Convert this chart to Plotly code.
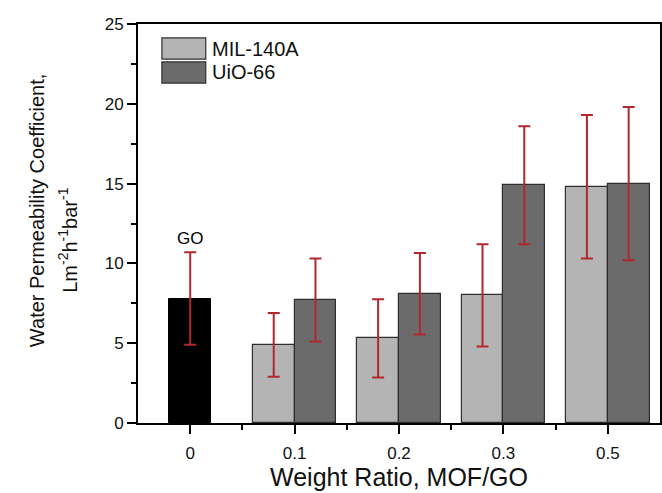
import plotly.graph_objects as go

categories = ["0", "0.1", "0.2", "0.3", "0.5"]
go_value = [7.8]
go_error = [2.9]
mil_values = [4.9, 5.3, 8.0, 14.8]
mil_errors = [2.0, 2.45, 3.2, 4.5]
uio_values = [7.7, 8.1, 14.9, 15.0]
uio_errors = [2.6, 2.55, 3.7, 4.8]
y_ticks = [0, 5, 10, 15, 20, 25]

pos = list(range(len(categories)))
FONT = "Arial, Liberation Sans, sans-serif"
ERR = "#b0282d"

fig = go.Figure()
fig.add_trace(go.Bar(
    x=pos[:1], y=go_value, name="GO", width=0.4, offset=-0.2,
    marker=dict(color="#000000", line=dict(color="#000000", width=1)),
    error_y=dict(type="data", array=go_error, color=ERR, thickness=2, width=6),
    showlegend=False))
fig.add_trace(go.Bar(
    x=pos[1:], y=mil_values, name="MIL-140A", width=0.4, offset=-0.4,
    marker=dict(color="#b4b4b4", line=dict(color="#2e2e2e", width=1.2)),
    error_y=dict(type="data", array=mil_errors, color=ERR, thickness=2, width=6),
    showlegend=False))
fig.add_trace(go.Bar(
    x=pos[1:], y=uio_values, name="UiO-66", width=0.4, offset=0.0,
    marker=dict(color="#6b6b6b", line=dict(color="#2e2e2e", width=1.2)),
    error_y=dict(type="data", array=uio_errors, color=ERR, thickness=2, width=6),
    showlegend=False))

# GO label
fig.add_annotation(x=pos[0], y=go_value[0] + go_error[0], text="GO", showarrow=False,
                   yanchor="bottom", yshift=2, font=dict(family=FONT, size=17, color="#000"))

# custom legend
leg = [("MIL-140A", "#b4b4b4", 0.965, 0.912), ("UiO-66", "#6b6b6b", 0.905, 0.852)]
for name, col, y1, y0 in leg:
    fig.add_shape(type="rect", xref="paper", yref="paper", x0=0.0458, x1=0.1298,
                  y0=y0, y1=y1, fillcolor=col, line=dict(color="#2e2e2e", width=1.2))
    fig.add_annotation(xref="paper", yref="paper", x=0.137, y=(y0 + y1) / 2, text=name,
                       showarrow=False, xanchor="left", yanchor="middle",
                       font=dict(family=FONT, size=20, color="#111"))

# y-axis title (two lines)
fig.add_annotation(xref="paper", yref="paper", x=0, y=0.531, xshift=-114,
                   text="Water Permeability Coefficient,", textangle=-90, showarrow=False,
                   font=dict(family=FONT, size=20, color="#111"))
fig.add_annotation(xref="paper", yref="paper", x=0, y=0.458, xshift=-85,
                   text="Lm<sup>-2</sup>h<sup>-1</sup>bar<sup>-1</sup>", textangle=-90,
                   showarrow=False, font=dict(family=FONT, size=20, color="#111"))

fig.update_layout(
    width=662, height=493,
    margin=dict(l=138, r=0, t=24, b=70),
    paper_bgcolor="white", plot_bgcolor="white",
    barmode="overlay", bargap=0,
    font=dict(family=FONT, size=17, color="#111"),
)
fig.update_xaxes(
    range=[-0.5, 4.5], tickmode="array", tickvals=pos, ticktext=categories,
    showline=True, linecolor="#000", linewidth=2, mirror=True,
    ticks="outside", ticklen=9, tickwidth=2, tickcolor="#000",
    ticklabelstandoff=5,
    minor=dict(tickmode="array", tickvals=[p + 0.5 for p in pos[:-1]],
               ticks="outside", ticklen=5, tickwidth=2, tickcolor="#000"),
    showgrid=False, zeroline=False,
    tickfont=dict(family=FONT, size=17, color="#111"),
    title=dict(text="Weight Ratio, MOF/GO", font=dict(family=FONT, size=25, color="#111"),
               standoff=6),
)
fig.update_yaxes(
    range=[0, 25], tickmode="array", tickvals=y_ticks,
    showline=True, linecolor="#000", linewidth=2, mirror=True,
    ticks="outside", ticklen=9, tickwidth=2, tickcolor="#000",
    minor=dict(dtick=2.5, tick0=0, ticks="outside", ticklen=5, tickwidth=2, tickcolor="#000"),
    showgrid=False, zeroline=False,
    tickfont=dict(family=FONT, size=17, color="#111"),
)

fig.write_html("out.html")
